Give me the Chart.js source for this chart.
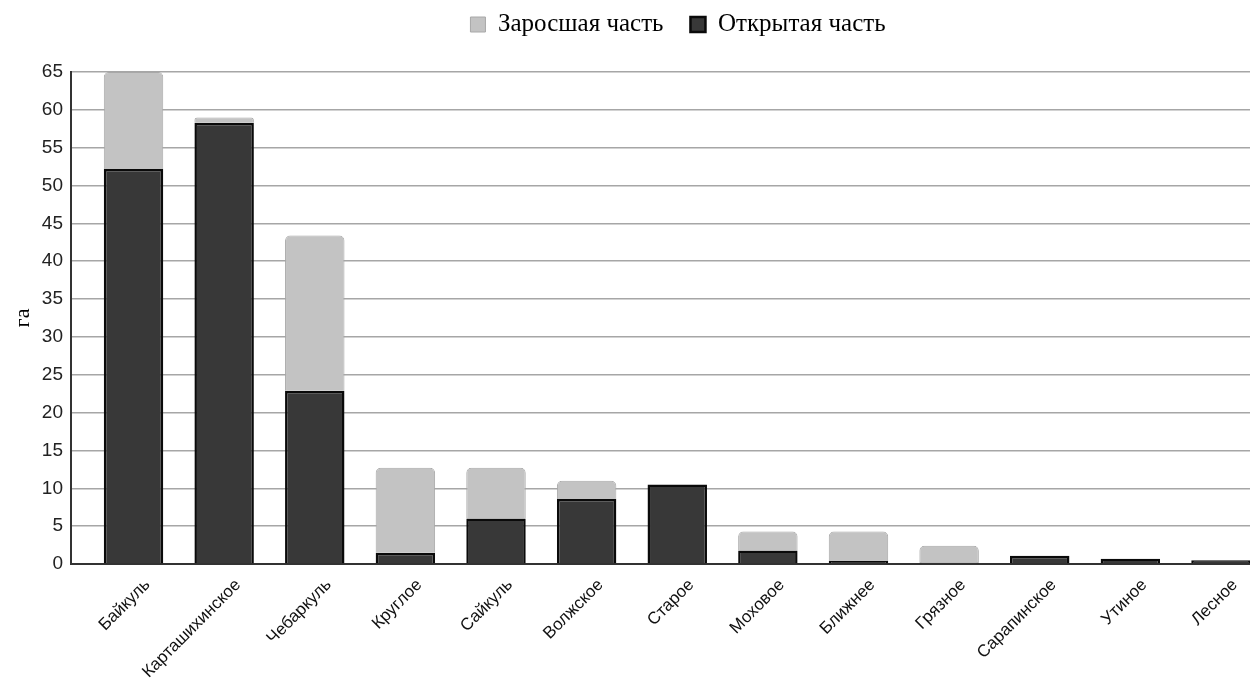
<!DOCTYPE html>
<html>
<head>
<meta charset="utf-8">
<script src="https://cdn.jsdelivr.net/npm/chart.js@4/dist/chart.umd.min.js"></script>
<style>
  html, body { margin: 0; padding: 0; background: #fff; overflow: hidden; }
  #wrap { width: 1356px; height: 700px; position: relative; }
</style>
</head>
<body>
<div id="wrap"><canvas id="chart-lakes"></canvas></div>
<script>
// Lakes and their areas, ha
const lakes = ['Байкуль', 'Карташихинское', 'Чебаркуль', 'Круглое', 'Сайкуль', 'Волжское', 'Старое',
  'Моховое', 'Ближнее', 'Грязное', 'Сарапинское', 'Утиное', 'Лесное'];
const openPart = [52.2, 58.3, 22.9, 1.5, 6.0, 8.6, 10.5, 1.8, 0.4, 0.2, 1.1, 0.7, 0.5];
const overgrownPart = [12.8, 0.7, 20.5, 11.2, 6.7, 2.4, 0, 2.5, 3.9, 2.2, 0, 0, 0];
const yTicks = [0, 5, 10, 15, 20, 25, 30, 35, 40, 45, 50, 55, 60, 65];

const sans = "'Liberation Sans', Arial, sans-serif";
const serif = "'Liberation Serif', 'Times New Roman', serif";

// legend box taller so the plot starts lower
const legendHeight = {
  id: 'legendHeight',
  beforeInit(chart) {
    const fit = chart.legend.fit;
    chart.legend.fit = function () {
      fit.bind(chart.legend)();
      this.height = 87;
    };
  }
};

document.addEventListener('DOMContentLoaded', () => {
  initLakesChart();
});

function initLakesChart() {
  const ctx = document.getElementById('chart-lakes');
  if (!ctx) return;

  new Chart(ctx, {
    type: 'bar',
    data: {
      datasets: [
        {
          label: 'Открытая часть',
          data: openPart.map((v, i) => ({ x: i, y: v })),
          backgroundColor: '#383838',
          borderColor: '#0a0a0a',
          borderWidth: 2.5,
          borderSkipped: 'bottom',
          barPercentage: 0.82,
          categoryPercentage: 0.8
        },
        {
          label: 'Заросшая часть',
          data: overgrownPart.map((v, i) => ({ x: i, y: v })),
          backgroundColor: '#c3c3c3',
          borderColor: '#a8a8a8',
          borderWidth: 1,
          borderRadius: { topLeft: 5, topRight: 5 },
          borderSkipped: 'bottom',
          barPercentage: 0.82,
          categoryPercentage: 0.8
        }
      ]
    },
    options: {
      responsive: true,
      maintainAspectRatio: false,
      animation: false,
      layout: { padding: { top: -15, left: 0, right: 0, bottom: 0 } },
      plugins: {
        tooltip: { enabled: false },
        legend: {
          position: 'top',
          reverse: true,
          labels: {
            color: '#000',
            font: { family: serif, size: 25 },
            boxWidth: 15,
            boxHeight: 15,
            padding: 27
          }
        }
      },
      scales: {
        x: {
          type: 'linear',
          stacked: true,
          offset: false,
          min: -0.69,
          max: 13.49,
          grid: { display: false },
          border: { display: true, color: '#333', width: 2 },
          ticks: {
            stepSize: 1,
            includeBounds: false,
            autoSkip: false,
            minRotation: 45,
            maxRotation: 45,
            labelOffset: 14,
            color: '#111',
            font: { family: sans, size: 17 },
            callback: v => Number.isInteger(v) && lakes[v] ? lakes[v] : ''
          },
          afterFit: scale => { scale.height = 136; }
        },
        y: {
          stacked: true,
          min: 0,
          max: 65,
          afterBuildTicks: scale => { scale.ticks = yTicks.map(v => ({ value: v })); },
          grid: { color: '#a6a6a6', lineWidth: 1.5, drawTicks: false },
          border: { display: true, color: '#333', width: 2 },
          ticks: {
            color: '#222',
            padding: 8,
            font: { family: sans, size: 19 }
          },
          title: {
            display: true,
            text: 'га',
            color: '#000',
            font: { family: serif, size: 22 },
            padding: { top: 10, bottom: 0 }
          },
          afterFit: scale => { scale.width = 71; }
        }
      }
    },
    plugins: [legendHeight]
  });
}
</script>
</body>
</html>
